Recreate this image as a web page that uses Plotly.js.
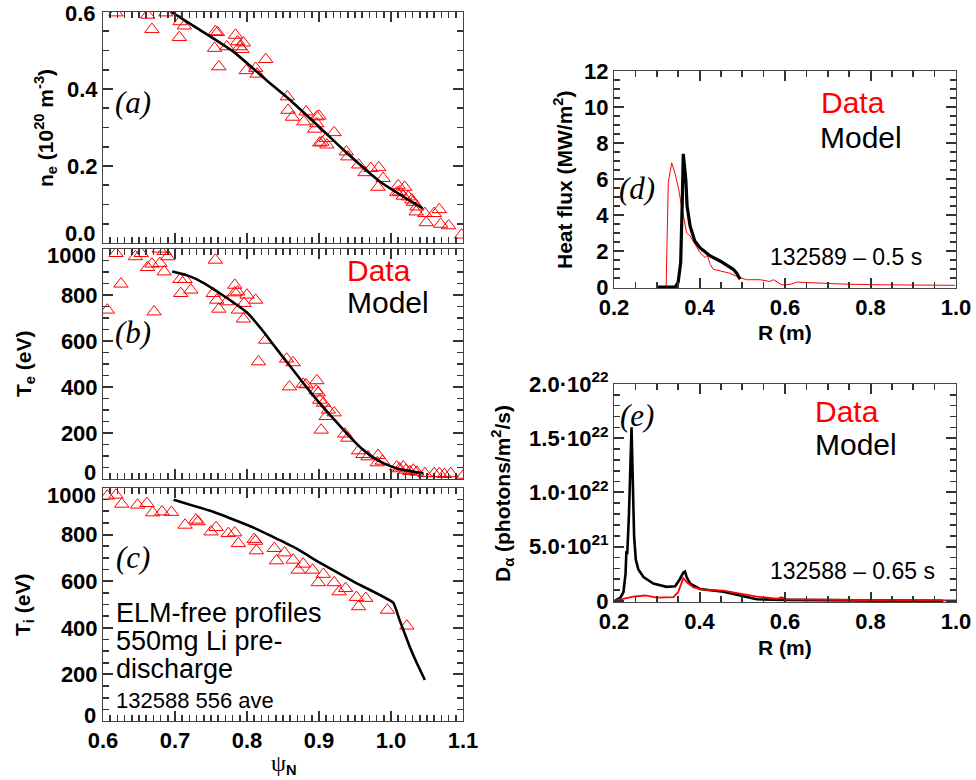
<!DOCTYPE html>
<html>
<head>
<meta charset="utf-8">
<script src="https://cdn.plot.ly/plotly-3.0.1.min.js"></script>
<style>html,body{margin:0;padding:0;background:#fff;}#chart{width:976px;height:780px;}</style>
</head>
<body>
<div id="chart"></div>
<script>
// ---------- Panel (a): electron density ----------
const neX = [0.618,0.662,0.668,0.687,0.707,0.713,0.706,0.756,0.759,0.755,0.761,0.772,0.784,0.787,0.790,0.795,0.793,0.799,0.812,0.814,0.826,0.856,0.857,0.863,0.879,0.882,0.897,0.900,0.894,0.897,0.901,0.904,0.911,0.910,0.921,0.938,0.940,0.955,0.964,0.972,0.983,0.982,0.989,1.010,1.012,1.019,1.008,1.017,1.024,1.029,1.031,1.036,1.035,1.047,1.049,1.060,1.067,1.069,1.080,1.098];
const neY = [0.598,0.592,0.555,0.598,0.575,0.564,0.534,0.549,0.547,0.506,0.458,0.510,0.540,0.523,0.510,0.520,0.503,0.448,0.454,0.439,0.477,0.380,0.345,0.327,0.315,0.341,0.328,0.330,0.296,0.310,0.260,0.262,0.255,0.272,0.287,0.237,0.224,0.203,0.183,0.194,0.196,0.145,0.168,0.149,0.133,0.145,0.131,0.122,0.120,0.112,0.106,0.094,0.081,0.077,0.053,0.077,0.087,0.049,0.045,0.021];
const neModelX = [0.695,0.735,0.781,0.827,0.859,0.900,0.938,0.985,1.044];
const neModelY = [0.600,0.553,0.497,0.423,0.373,0.302,0.235,0.159,0.090];

// ---------- Panel (b): electron temperature ----------
const teX = [0.606,0.618,0.625,0.645,0.653,0.662,0.668,0.671,0.678,0.679,0.685,0.685,0.690,0.707,0.714,0.708,0.722,0.756,0.753,0.758,0.761,0.772,0.783,0.787,0.783,0.788,0.795,0.800,0.796,0.812,0.826,0.816,0.855,0.864,0.859,0.878,0.882,0.897,0.896,0.899,0.901,0.906,0.903,0.913,0.910,0.921,0.936,0.940,0.955,0.961,0.968,0.981,0.982,0.988,1.008,1.012,1.017,1.021,1.026,1.031,1.036,1.047,1.060,1.067,1.074,1.083,1.101];
const teY = [735,981,848,967,981,920,935,727,1000,938,990,901,967,868,868,807,822,952,807,778,739,771,843,814,810,735,696,800,764,778,604,510,522,506,401,413,410,428,384,375,343,330,213,300,272,288,196,178,123,107,97,71,103,78,53,45,53,39,33,39,30,24,24,24,20,24,17];
const teModelX = [0.696,0.72,0.74,0.76,0.78,0.80,0.82,0.84,0.86,0.88,0.90,0.92,0.94,0.96,0.98,1.00,1.02,1.045];
const teModelY = [902,882,852,812,770,724,652,570,490,410,333,262,193,130,84,55,38,25];

// ---------- Panel (c): ion temperature ----------
const tiX = [0.606,0.618,0.626,0.648,0.661,0.669,0.682,0.695,0.714,0.729,0.732,0.750,0.757,0.774,0.783,0.788,0.810,0.812,0.813,0.838,0.841,0.852,0.864,0.871,0.878,0.891,0.899,0.906,0.921,0.928,0.937,0.952,0.955,0.965,0.995,1.022];
const tiY = [966,970,931,927,934,894,898,896,841,863,856,812,831,805,808,762,780,772,731,741,688,722,691,648,674,648,594,630,594,555,569,531,491,527,476,408];
const tiModelX = [0.698,0.753,0.809,0.864,0.901,0.948,1.003,1.012,1.026,1.036,1.047];
const tiModelY = [950,898,830,748,680,598,508,433,319,248,176];

// ---------- Panel (d): divertor heat flux ----------
const hfDataR = [0.300,0.322,0.327,0.335,0.343,0.351,0.358,0.366,0.370,0.378,0.389,0.401,0.413,0.418,0.425,0.432,0.448,0.471,0.487,0.510,0.542,0.565,0.573,0.592,0.604,0.616,0.627,0.732,0.810,0.998];
const hfDataQ = [0.00,0.00,5.80,6.90,6.30,5.47,4.50,3.39,3.00,2.84,2.38,1.92,1.64,1.77,1.27,0.99,0.90,0.77,0.59,0.41,0.41,0.31,0.41,0.13,0.13,0.17,0.28,0.17,0.13,0.10];
const hfModelR = [0.300,0.343,0.350,0.356,0.360,0.362,0.368,0.371,0.378,0.389,0.401,0.425,0.448,0.467,0.479,0.487,0.495];
const hfModelQ = [0.00,0.00,0.26,1.37,5.05,7.40,5.97,4.49,3.39,2.56,2.19,1.73,1.45,1.18,0.99,0.77,0.44];

// ---------- Panel (e): D-alpha emission ----------
const daDataR = [0.200,0.222,0.245,0.273,0.300,0.339,0.350,0.362,0.371,0.386,0.409,0.456,0.495,0.534,0.581,0.592,0.604,0.700,0.850,1.000];
const daDataY = [0,0.2e21,0.4e21,0.5e21,0.3e21,0.35e21,0.8e21,2.1e21,1.7e21,1.25e21,1.05e21,0.95e21,0.7e21,0.4e21,0.2e21,0.35e21,0.15e21,0.1e21,0.06e21,0.05e21];
const daModelR = [0.202,0.215,0.222,0.227,0.229,0.231,0.235,0.238,0.241,0.244,0.247,0.251,0.257,0.269,0.292,0.323,0.343,0.354,0.362,0.366,0.370,0.378,0.401,0.456,0.495,0.534,0.600,0.700,0.850,0.970];
const daModelY = [0,0.3e21,0.8e21,2.5e21,4.6e21,4.3e21,8e21,1.2e22,1.6e22,1.1e22,6e21,3.8e21,2.9e21,2.2e21,1.6e21,1.3e21,1.35e21,2.0e21,2.6e21,2.7e21,2.2e21,1.6e21,1.1e21,0.85e21,0.5e21,0.15e21,0.1e21,0.05e21,0.03e21,0.02e21];

// tick labels
const psiTicks = [0.6,0.7,0.8,0.9,1.0,1.1];
const psiTickText = ['0.6','0.7','0.8','0.9','1.0','1.1'];
const neTicks = [0.2,0.4];
const neTickText = ['0.2','0.4'];
const tTicks = [200,400,600,800];
const tTickText = ['200','400','600','800'];
const rTicks = [0.2,0.4,0.6,0.8,1.0];
const rTickText = ['0.2','0.4','0.6','0.8','1.0'];
const hfTicks = [0,2,4,6,8,10,12];
const hfTickText = ['0','2','4','6','8','10','12'];
const daTicks = [0,5e21,1e22,1.5e22,2e22];
const daTickText = ['0','5.0·10<sup>21</sup>','1.0·10<sup>22</sup>','1.5·10<sup>22</sup>','2.0·10<sup>22</sup>'];

const W = 976, H = 780;
const px = v => v / W;
const py = v => 1 - v / H;

const SANS = 'Liberation Sans, Arial, Helvetica, sans-serif';
const SERIF = 'Liberation Serif, Times New Roman, serif';
const RED = '#ff0000';
const FRAME = '#444444';
const TICK = '#333333';
const tickFont = {family: SANS, size: 22, color: '#000', weight: 'bold'};

function ax(opts) {
  return Object.assign({
    showline: true, linecolor: FRAME, mirror: 'ticks',
    ticks: 'inside', ticklen: 10, tickwidth: 2, tickcolor: TICK,
    showgrid: false, zeroline: false,
    tickfont: tickFont
  }, opts);
}
function minorOf(tick0, step) {
  return {tickmode: 'linear', tick0: tick0, dtick: step, ticks: 'inside', ticklen: 6, tickwidth: 1.6, tickcolor: TICK, showgrid: false};
}

const LX = [px(103), px(463)];
const RX = [px(614), px(956)];

const tri = {symbol: 'triangle-up-open', size: 12.5, color: RED, line: {color: RED, width: 1}};

const traces = [
  {x: neX, y: neY, xaxis: 'x', yaxis: 'y', mode: 'markers', type: 'scatter', marker: tri},
  {x: neModelX, y: neModelY, xaxis: 'x', yaxis: 'y', mode: 'lines', type: 'scatter', line: {color: '#000', width: 2.6, shape: 'spline', smoothing: 0.6}},
  {x: teX, y: teY, xaxis: 'x2', yaxis: 'y2', mode: 'markers', type: 'scatter', marker: tri},
  {x: teModelX, y: teModelY, xaxis: 'x2', yaxis: 'y2', mode: 'lines', type: 'scatter', line: {color: '#000', width: 2.6, shape: 'spline', smoothing: 0.6}},
  {x: tiX, y: tiY, xaxis: 'x3', yaxis: 'y3', mode: 'markers', type: 'scatter', marker: tri},
  {x: tiModelX, y: tiModelY, xaxis: 'x3', yaxis: 'y3', mode: 'lines', type: 'scatter', line: {color: '#000', width: 2.6, shape: 'spline', smoothing: 0.35}},
  {x: hfDataR, y: hfDataQ, xaxis: 'x4', yaxis: 'y4', mode: 'lines', type: 'scatter', line: {color: RED, width: 1}},
  {x: hfModelR, y: hfModelQ, xaxis: 'x4', yaxis: 'y4', mode: 'lines', type: 'scatter', line: {color: '#000', width: 3.2}},
  {x: daModelR, y: daModelY, xaxis: 'x5', yaxis: 'y5', mode: 'lines', type: 'scatter', line: {color: '#000', width: 2.6}},
  {x: daDataR, y: daDataY, xaxis: 'x5', yaxis: 'y5', mode: 'lines', type: 'scatter', line: {color: RED, width: 1.8}}
];

function ann(text, x, y, o) {
  return Object.assign({text: text, x: x, y: y, xref: 'paper', yref: 'paper', showarrow: false,
    xanchor: 'center', yanchor: 'middle', font: {family: SANS, size: 30, color: '#000'}}, o || {});
}
const panelFont = {family: SERIF, size: 31, color: '#000', style: 'italic'};
const titleFont = {family: SANS, size: 21, color: '#000', weight: 'bold'};

const annotations = [
  ann('(a)', px(133), py(103), {font: panelFont}),
  ann('(b)', px(133), py(332), {font: panelFont}),
  ann('(c)', px(133), py(557), {font: panelFont}),
  ann('(d)', px(637), py(188), {font: panelFont}),
  ann('(e)', px(637), py(415), {font: panelFont}),
  ann('Data', px(345), py(270), {xanchor: 'left', font: {family: SANS, size: 30, color: RED}}),
  ann('Model', px(345), py(303), {xanchor: 'left'}),
  ann('Data', px(819), py(103), {xanchor: 'left', font: {family: SANS, size: 30, color: RED}}),
  ann('Model', px(818), py(137), {xanchor: 'left'}),
  ann('Data', px(813), py(411), {xanchor: 'left', font: {family: SANS, size: 30, color: RED}}),
  ann('Model', px(813), py(444), {xanchor: 'left'}),
  ann('132589 – 0.5 s', px(768), py(257), {xanchor: 'left', font: {family: SANS, size: 23, color: '#000'}}),
  ann('132588 – 0.65 s', px(768), py(571), {xanchor: 'left', font: {family: SANS, size: 23, color: '#000'}}),
  ann('ELM-free profiles', px(114), py(613), {xanchor: 'left', font: {family: SANS, size: 27, color: '#000'}}),
  ann('550mg Li pre-', px(114), py(641), {xanchor: 'left', font: {family: SANS, size: 27, color: '#000'}}),
  ann('discharge', px(114), py(669), {xanchor: 'left', font: {family: SANS, size: 27, color: '#000'}}),
  ann('132588 556 ave', px(114), py(700), {xanchor: 'left', font: {family: SANS, size: 22, color: '#000'}}),
  ann('n<sub>e</sub> (10<sup>20</sup> m<sup>-3</sup>)', px(46), py(128), {textangle: -90, font: titleFont}),
  ann('T<sub>e</sub> (eV)', px(25), py(364), {textangle: -90, font: titleFont}),
  ann('T<sub>i</sub> (eV)', px(24), py(605), {textangle: -90, font: titleFont}),
  ann('<span style="font-family:Liberation Serif;font-weight:normal;font-size:24px">ψ</span><sub>N</sub>', px(284), py(764), {font: titleFont}),
  ann('Heat flux (MW/m<sup>2</sup>)', px(563), py(180), {textangle: -90, font: titleFont}),
  ann('R (m)', px(785), py(332), {font: titleFont}),
  ann('D<sub>α</sub> (photons/m<sup>2</sup>/s)', px(502), py(494), {textangle: -90, font: titleFont}),
  ann('R (m)', px(785), py(647), {font: titleFont}),
  ann('0.0', px(103), 0, {yref: 'y', xanchor: 'right', xshift: -5, yshift: 9, font: tickFont}),
  ann('0.6', px(103), 0.6, {yref: 'y', xanchor: 'right', xshift: -5, yshift: -2, font: tickFont}),
  ann('0', px(103), 0, {yref: 'y2', xanchor: 'right', xshift: -5, yshift: 7, font: tickFont}),
  ann('1000', px(103), 1000, {yref: 'y2', xanchor: 'right', xshift: -5, yshift: -7, font: tickFont}),
  ann('0', px(103), 0, {yref: 'y3', xanchor: 'right', xshift: -5, yshift: 6, font: tickFont}),
  ann('1000', px(103), 1000, {yref: 'y3', xanchor: 'right', xshift: -5, yshift: -7, font: tickFont})
];

const layout = {
  width: W, height: H,
  margin: {l: 0, r: 0, t: 0, b: 0},
  showlegend: false,
  xaxis: ax({domain: LX, anchor: 'y', range: [0.6, 1.1], tickvals: psiTicks, ticktext: psiTickText, showticklabels: false, minor: minorOf(0.6, 0.01)}),
  yaxis: ax({domain: [py(243), py(12)], anchor: 'x', range: [0, 0.6], tickvals: neTicks, ticktext: neTickText, minor: minorOf(0, 0.05)}),
  xaxis2: ax({domain: LX, anchor: 'y2', range: [0.6, 1.1], tickvals: psiTicks, ticktext: psiTickText, showticklabels: false, minor: minorOf(0.6, 0.01)}),
  yaxis2: ax({domain: [py(479), py(249)], anchor: 'x2', range: [0, 1000], tickvals: tTicks, ticktext: tTickText, minor: minorOf(0, 50)}),
  xaxis3: ax({domain: LX, anchor: 'y3', range: [0.6, 1.1], tickvals: psiTicks, ticktext: psiTickText, minor: minorOf(0.6, 0.01)}),
  yaxis3: ax({domain: [py(721), py(488)], anchor: 'x3', range: [0, 1000], tickvals: tTicks, ticktext: tTickText, minor: minorOf(0, 50)}),
  xaxis4: ax({domain: RX, anchor: 'y4', range: [0.2, 1.0], tickvals: rTicks, ticktext: rTickText, minor: minorOf(0.2, 0.05)}),
  yaxis4: ax({domain: [py(288), py(71)], anchor: 'x4', range: [-0.05, 12], tickvals: hfTicks, ticktext: hfTickText, minor: minorOf(0, 0.5)}),
  xaxis5: ax({domain: RX, anchor: 'y5', range: [0.2, 1.0], tickvals: rTicks, ticktext: rTickText, minor: minorOf(0.2, 0.05)}),
  yaxis5: ax({domain: [py(602), py(384)], anchor: 'x5', range: [-0.01e22, 2e22], tickvals: daTicks, ticktext: daTickText, minor: minorOf(0, 1e21)}),
  annotations: annotations
};

Plotly.newPlot('chart', traces, layout, {staticPlot: true});
</script>
</body>
</html>
